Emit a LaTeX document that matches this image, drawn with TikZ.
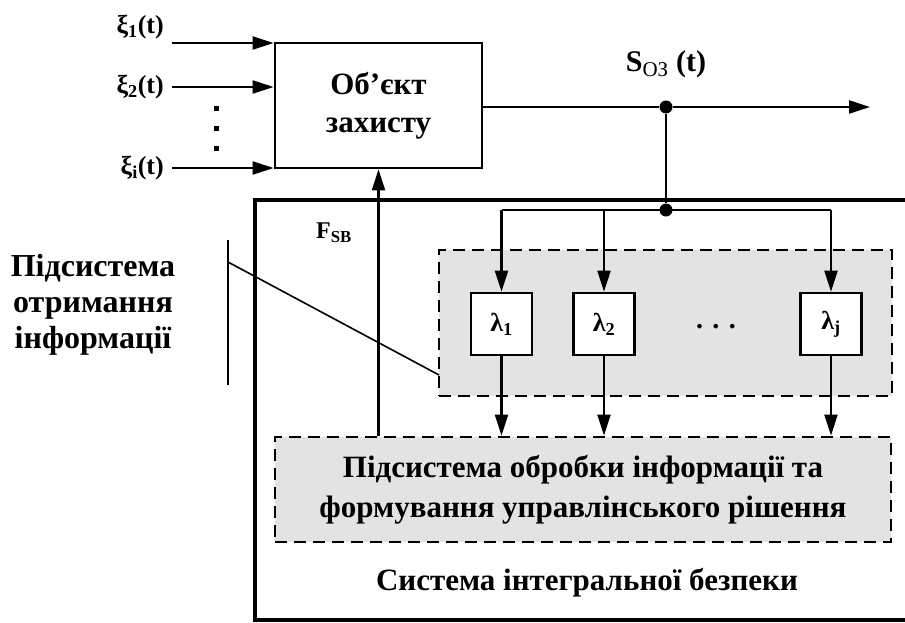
\documentclass[tikz,border=0pt]{standalone}
\usepackage{fontspec}
\setmainfont{Liberation Serif}
\usetikzlibrary{arrows.meta}
\begin{document}
\begin{tikzpicture}[x=1pt,y=-1pt,
  lbl/.style={font=\bfseries\fontsize{26}{28}\selectfont, inner sep=0pt},
  big/.style={align=center, inner sep=0pt},
  box/.style={draw, line width=2.8pt, fill=white},
  dbox/.style={draw, line width=2.8pt, dash pattern=on 12pt off 7pt, fill=gray!22},
  arr/.style={line width=2.2pt, -{Triangle[length=21pt,width=13pt]}},
  ln/.style={line width=2.2pt},
  jdot/.style={circle, fill=black, inner sep=0pt, minimum size=13pt}]
\useasboundingbox (0,0) rectangle (905,622);
% outer system frame
\draw[line width=3.5pt] (910,200) -- (255,200) -- (255,620) -- (910,620);
% dashed boxes
\node[dbox, minimum width=453pt, minimum height=146pt] (A) at (665.5,323) {};
\node[dbox, minimum width=616pt, minimum height=105pt, big, font=\bfseries\fontsize{31}{40}\selectfont] (B) at (583,489.5) {Підсистема обробки інформації та\\формування управлінського рішення};
% object
\node[box, minimum width=207pt, minimum height=125pt, big, font=\bfseries\fontsize{31}{38}\selectfont] (obj) at (378.5,105.5) {Об’єкт\\захисту};
% inputs
\coordinate (in1) at (172,43);
\coordinate (in2) at (172,87);
\coordinate (in3) at (172,168);
\draw[arr] (in1) -- (in1 -| obj.west);
\draw[arr] (in2) -- (in2 -| obj.west);
\draw[arr] (in3) -- (in3 -| obj.west);
\node[lbl, anchor=east] (x1) at (164,27) {ξ\textsubscript{1}(t)};
\node[lbl, anchor=east] (x2) at (164,87) {ξ\textsubscript{2}(t)};
\node[lbl, anchor=east] (x3) at (164,168) {ξ\textsubscript{і}(t)};
\node[fill=black, inner sep=0pt, minimum size=5pt] (d1) at (216,108) {};
\node[fill=black, inner sep=0pt, minimum size=5pt] (d2) at (216,128) {};
\node[fill=black, inner sep=0pt, minimum size=5pt] (d3) at (216,148) {};
% output
\node[jdot] (j1) at (666,107) {};
\coordinate (out) at (870,107);
\draw[ln] (obj.east |- j1) -- (j1);
\draw[arr] (j1) -- (out);
\node[lbl, font=\bfseries\fontsize{30}{32}\selectfont] (S) at (666,64) {S\textsubscript{\mdseries ОЗ} (t)};
% distribution
\node[jdot] (j2) at (666,210) {};
\draw[ln] (j1) -- (j2);
\node[box, line width=2.6pt, minimum width=61pt, minimum height=62pt, lbl] (l1) at (501.5,324) {λ\textsubscript{1}};
\node[box, line width=2.6pt, minimum width=61pt, minimum height=62pt, lbl] (l2) at (604,324) {λ\textsubscript{2}};
\node[box, line width=2.6pt, minimum width=61pt, minimum height=62pt, lbl] (lj) at (831,324) {λ\textsubscript{j}};
\node[lbl, font=\bfseries\fontsize{28}{28}\selectfont] (dots) at (716,327) {. . .};
\draw[ln] (l1 |- j2) -- (lj |- j2);
\draw[arr] (l1 |- j2) -- (l1.north);
\draw[arr] (l2 |- j2) -- (l2.north);
\draw[arr] (lj |- j2) -- (lj.north);
\draw[arr] (l1.south) -- (l1 |- B.north);
\draw[arr] (l2.south) -- (l2 |- B.north);
\draw[arr] (lj.south) -- (lj |- B.north);
% feedback
\draw[arr] (obj.south |- B.north) -- (obj.south);
\node[lbl, font=\bfseries\fontsize{24}{26}\selectfont] (F) at (334,233) {F\textsubscript{SB}};
% bottom label
\node[big, font=\bfseries\fontsize{31}{33}\selectfont] (sys) at (587,583) {Система інтегральної безпеки};
% left label
\node[big, font=\bfseries\fontsize{32}{36}\selectfont] (sub) at (93,305) {Підсистема\\отримання\\інформації};
\coordinate (v1) at (228,240);
\coordinate (v2) at (228,385);
\coordinate (s1) at (228,262);
\coordinate (s2) at (439,375);
\draw[line width=1.6pt] (v1) -- (v2);
\draw[line width=1.6pt] (s1) -- (s2);
\end{tikzpicture}
\end{document}
